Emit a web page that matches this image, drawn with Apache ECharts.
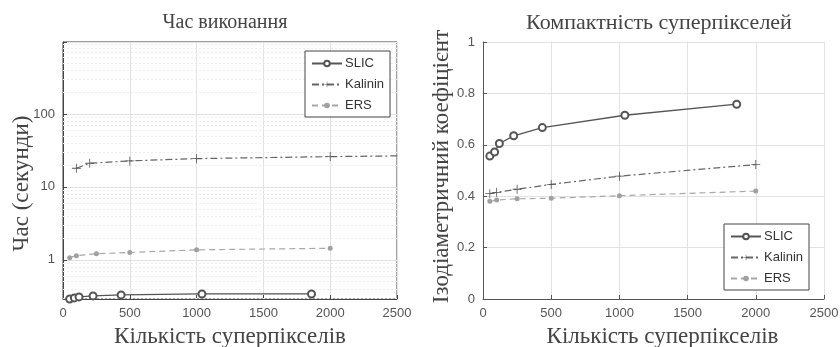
<!DOCTYPE html>
<html>
<head>
<meta charset="utf-8">
<script src="https://cdn.jsdelivr.net/npm/echarts@6/dist/echarts.min.js"></script>
<style>
  html, body { margin: 0; padding: 0; background: #fff; }
  #main { width: 840px; height: 347px; }
</style>
</head>
<body>
<div id="main"></div>
<script>
// дані, зчитані з графіків
var xSlic = [50, 85, 120, 225, 435, 1040, 1860];
var xOther = [50, 100, 250, 500, 1000, 2000];
var xKalinin = [100, 200, 500, 1000, 2000, 3000];

// час виконання (секунди)
var timeSlic = [0.29, 0.30, 0.31, 0.32, 0.33, 0.34, 0.34];
var timeKalinin = [18.0, 21.1, 22.7, 24.4, 26.0, 27.2];
var timeErs = [1.07, 1.14, 1.21, 1.26, 1.37, 1.44];

// ізодіаметричний коефіцієнт
var compSlic = [0.556, 0.572, 0.605, 0.635, 0.667, 0.715, 0.758];
var compKalinin = [0.410, 0.415, 0.427, 0.446, 0.478, 0.523];
var compErs = [0.380, 0.385, 0.390, 0.392, 0.402, 0.420];

var leftTicks = [1, 10, 100];
var legendNames = ['SLIC', 'Kalinin', 'ERS'];

function pairs(xs, ys) {
  return xs.map(function (x, i) { return [x, ys[i]]; });
}

// мінорна сітка для логарифмічної осі
var minorLines = [];
[0.1, 1, 10, 100].forEach(function (d) {
  for (var m = 2; m <= 9; m++) {
    var v = +(m * d).toFixed(3);
    if (v > 0.29 && v < 970) minorLines.push({ yAxis: v });
  }
});

var serif = 'Liberation Serif';
var sans = 'Liberation Sans';
var plus = 'path://M-0.45,-5L0.45,-5L0.45,-0.45L5,-0.45L5,0.45L0.45,0.45L0.45,5L-0.45,5L-0.45,0.45L-5,0.45L-5,-0.45L-0.45,-0.45Z';

var gridLine = { show: true, lineStyle: { color: '#e2e2e2', width: 1 } };
function tickLabel(fmt) {
  return { color: '#555', fontFamily: sans, fontSize: 13, margin: 8, formatter: fmt };
}

function seriesSet(gi, sx, sy, kx, ky, ex, ey, withMinor) {
  var ers = {
    name: 'ERS', type: 'line', xAxisIndex: gi, yAxisIndex: gi,
    data: pairs(ex, ey),
    symbol: 'circle', symbolSize: 5,
    lineStyle: { color: '#a8a8a8', width: 1.2, type: [6, 4] },
    itemStyle: { color: '#a0a0a0' },
    animation: false
  };
  if (withMinor) {
    ers.markLine = {
      silent: true, symbol: 'none', animation: false, z: 1,
      label: { show: false },
      lineStyle: { color: '#ececec', width: 1, type: [2, 2] },
      data: minorLines
    };
  }
  return [
    {
      name: 'SLIC', type: 'line', xAxisIndex: gi, yAxisIndex: gi,
      data: pairs(sx, sy),
      symbol: 'emptyCircle', symbolSize: 7,
      lineStyle: { color: '#555', width: 1.3 },
      itemStyle: { color: '#555', borderWidth: 1.2 },
      animation: false
    },
    {
      name: 'Kalinin', type: 'line', xAxisIndex: gi, yAxisIndex: gi,
      data: pairs(kx, ky),
      symbol: plus, symbolSize: 9,
      lineStyle: { color: '#666', width: 1.2, type: [7, 3, 2, 3] },
      itemStyle: { color: '#555' },
      animation: false
    },
    ers
  ];
}

function legendAt(left, top) {
  return {
    data: legendNames, orient: 'vertical', left: left, top: top, z: 20,
    itemWidth: 30, itemHeight: 7, itemGap: 8, padding: [6, 6, 5, 6],
    borderColor: '#444', borderWidth: 1, backgroundColor: '#fff',
    itemStyle: { borderWidth: 1 },
    textStyle: { fontFamily: sans, fontSize: 13, color: '#333', padding: [0, 0, 0, -2] }
  };
}

function numFmt(v) { return String(v); }

var chart = echarts.init(document.getElementById('main'));
var option = {
  backgroundColor: '#fff',
  title: [
    { text: 'Час виконання', left: 220, top: 8, textAlign: 'center',
      textStyle: { fontFamily: serif, fontSize: 20, fontWeight: 'normal', color: '#444' } },
    { text: 'Компактність суперпікселей', left: 654, top: 7, textAlign: 'center',
      textStyle: { fontFamily: serif, fontSize: 22, fontWeight: 'normal', color: '#444' } }
  ],
  legend: [legendAt(305, 51), legendAt(724, 224)],
  grid: [
    { left: 63, right: 443, top: 42, bottom: 48, outerBoundsMode: 'none',
      show: true, borderColor: '#444', borderWidth: 1 },
    { left: 483, right: 16, top: 42, bottom: 48, outerBoundsMode: 'none' }
  ],
  xAxis: [
    { type: 'value', gridIndex: 0, min: 0, max: 2500, interval: 500,
      name: 'Кількість суперпікселів', nameLocation: 'middle', nameGap: 26,
      nameTextStyle: { fontFamily: serif, fontSize: 23, color: '#444' },
      axisLine: { lineStyle: { color: '#444' } },
      axisTick: { inside: true, length: 4, lineStyle: { color: '#444' } },
      axisLabel: tickLabel(numFmt), splitLine: gridLine },
    { type: 'value', gridIndex: 1, min: 0, max: 2500, interval: 500,
      name: 'Кількість суперпікселів', nameLocation: 'middle', nameGap: 26,
      nameTextStyle: { fontFamily: serif, fontSize: 23, color: '#444', padding: [0, 0, 0, 18] },
      axisLine: { lineStyle: { color: '#555' } },
      axisTick: { inside: true, length: 4, lineStyle: { color: '#555' } },
      axisLabel: tickLabel(numFmt), splitLine: gridLine }
  ],
  yAxis: [
    { type: 'log', gridIndex: 0, min: 0.29, max: 970, logBase: 10,
      name: 'Час (секунди)', nameLocation: 'middle', nameGap: 30, nameMoveOverlap: false,
      nameTextStyle: { fontFamily: serif, fontSize: 23, color: '#444', padding: [0, 26, 0, 0] },
      axisLine: { show: true, lineStyle: { color: '#444' } },
      axisTick: { inside: true, length: 4, lineStyle: { color: '#444' } },
      axisLabel: tickLabel(function (v) {
        var r = Math.round(v * 1000) / 1000;
        return leftTicks.indexOf(r) >= 0 ? String(r) : '';
      }),
      splitLine: gridLine },
    { type: 'value', gridIndex: 1, min: 0, max: 1, interval: 0.2,
      name: 'Ізодіаметричний коефіцієнт', nameLocation: 'middle', nameGap: 30, nameMoveOverlap: false,
      nameTextStyle: { fontFamily: serif, fontSize: 23, color: '#444', padding: [0, 0, 0, 8] },
      axisLine: { show: true, lineStyle: { color: '#555' } },
      axisTick: { show: true, inside: true, length: 4, lineStyle: { color: '#555' } },
      axisLabel: tickLabel(function (v) { return String(+v.toFixed(1)); }),
      splitLine: gridLine }
  ],
  series: [].concat(
    seriesSet(0, xSlic, timeSlic, xKalinin, timeKalinin, xOther, timeErs, true),
    seriesSet(1, xSlic, compSlic, xOther, compKalinin, xOther, compErs, false)
  )
};
chart.setOption(option);
</script>
</body>
</html>
